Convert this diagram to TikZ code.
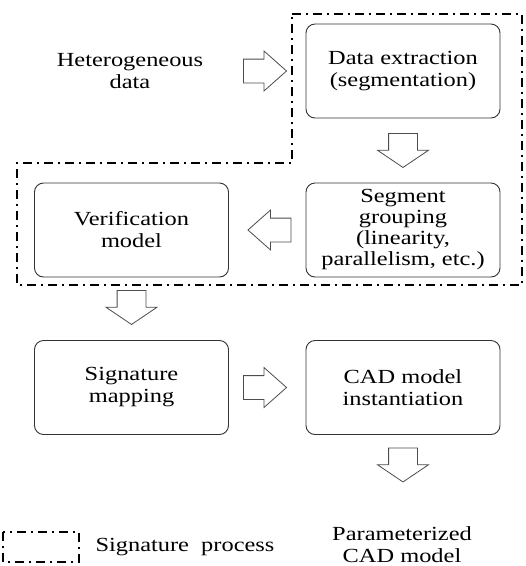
\documentclass[tikz,border=0pt]{standalone}
\usepackage{fontspec}
\setmainfont[FakeStretch=1.22]{Liberation Serif}
\usetikzlibrary{shapes.arrows,calc,positioning}
\tikzset{%
  >=latex,
  box/.style={draw=black!80,line width=0.9pt,rounded corners=9pt,
    minimum width=194pt,minimum height=94pt,align=center,inner sep=2pt},%
  harrow/.style={single arrow,draw=black!70,line width=0.8pt,outer sep=0pt,
    minimum height=43pt,single arrow head extend=8pt,single arrow tip angle=83,
    inner xsep=0pt,inner ysep=11.5pt,text height=0pt,text depth=0pt},%
  varrow/.style={single arrow,draw=black!70,line width=0.8pt,outer sep=0pt,
    minimum height=34pt,single arrow head extend=11pt,single arrow tip angle=112,
    inner xsep=0pt,inner ysep=14pt,text height=0pt,text depth=0pt,rotate=-90},%
  process line/.style={line width=1.6pt,dash pattern=on 9pt off 5pt on 2pt off 5pt}%
}

\begin{document}
\begin{tikzpicture}[x=1pt,y=-1pt,font=\fontsize{20}{22}\selectfont]
\useasboundingbox (0,0) rectangle (526,566);

% blocks
\node[align=center] (hetero) at (130,71) {Heterogeneous\\data};
\node[box] (extract) at (403,71) {Data extraction\\(segmentation)};
\node[box,font=\fontsize{20}{21}\selectfont] (group) at (403,230) {Segment\\grouping\\(linearity,\\parallelism, etc.)};
\node[box] (verif) at (131.5,230) {Verification\\model};
\node[box] (sigmap) at (131.5,387.5) {Signature\\mapping};
\node[box] (cad) at (403,387.5) {CAD model\\instantiation};
\node[align=center] (param) at (402,545) {Parameterized\\CAD model};

% hollow arrows
\node[harrow,anchor=tip] (a1) at ($(extract.west)+(-19,0)$) {};
\node[varrow,anchor=tail] (a2) at ($(extract.south)+(0,15)$) {};
\node[harrow,rotate=180,anchor=tip] (a3) at ($(verif.east)+(19,0)$) {};
\node[varrow,anchor=tail] (a4) at ($(verif.south)+(0,13)$) {};
\node[harrow,anchor=tip] (a5) at ($(cad.west)+(-19,0)$) {};
\node[varrow,anchor=tail] (a6) at ($(cad.south)+(0,13)$) {};

% signature process outline
\draw[process line] (292,14) -- (522,14) -- (522,285) -- (17,285) -- (17,163) -- (292,163) -- cycle;

% legend
\draw[process line] (3,532) rectangle (79,562);
\node[anchor=west] (legend) at (92,547) {Signature\ \ process};
\end{tikzpicture}
\end{document}
